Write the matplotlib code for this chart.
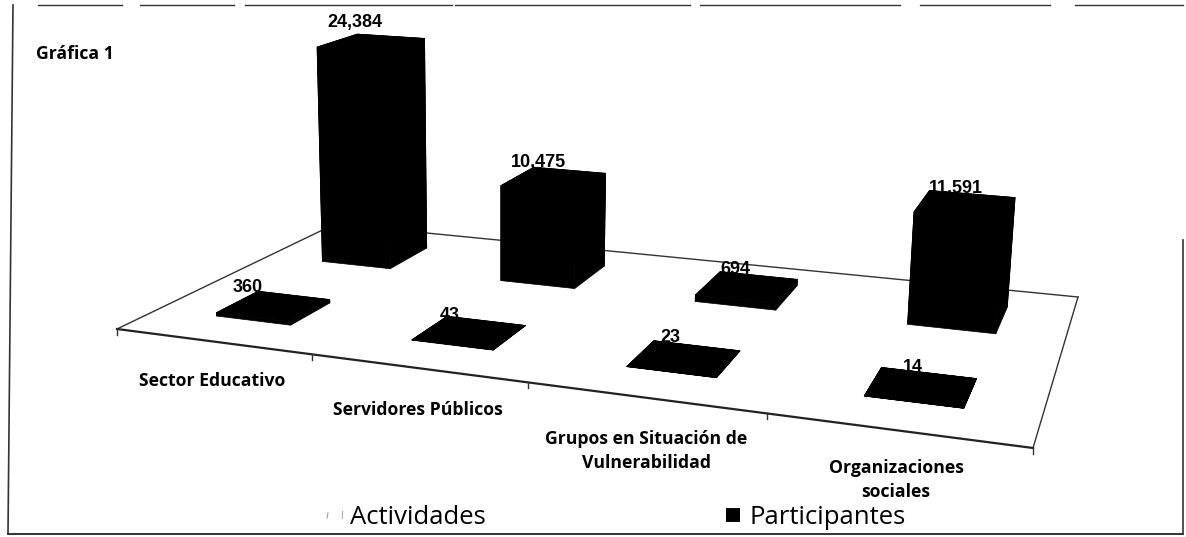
import numpy as np
import matplotlib
matplotlib.use('Agg')
import matplotlib.pyplot as plt
from matplotlib.patches import Polygon

# chart data
categories = ['Sector Educativo', 'Servidores Públicos',
              'Grupos en Situación de\nVulnerabilidad', 'Organizaciones\nsociales']
actividades = [360, 43, 23, 14]
participantes = [24384, 10475, 694, 11591]
value_labels_act = ['360', '43', '23', '14']
value_labels_par = ['24,384', '10,475', '694', '11,591']

# floor corners in picture pixels: front-left, front-right, back-right, back-left
floor = np.array([[117, 329], [1033, 448], [1078, 297], [335, 224]], dtype=float)
unit = np.array([[0, 0], [1, 0], [1, 1], [0, 1]], dtype=float)


def fit_homography(src, dst):
    rows, rhs = [], []
    for (a, b), (x, y) in zip(src, dst):
        rows.append([a, b, 1, 0, 0, 0, -a * x, -b * x])
        rows.append([0, 0, 0, a, b, 1, -a * y, -b * y])
        rhs += [x, y]
    h = np.linalg.solve(np.array(rows), np.array(rhs))
    return np.append(h, 1).reshape(3, 3)


H = fit_homography(unit, floor)


def project(cat, depth, value=0):
    # cat runs 0..4 along the front edge, depth 0..1 towards the back wall
    p = H @ np.array([cat / 4, depth, 1.0])
    x, y = p[0] / p[2], p[1] / p[2]
    k = 0.0088 + 1.45e-5 * (y - 262)
    h = value * k
    return x + h * (x - 500) * 0.00014, y - h


def draw_bar(ax, i, d0, d1, value, width=0.39):
    c0, c1 = i + 0.51 - width / 2, i + 0.51 + width / 2
    corners = [(c0, d0), (c1, d0), (c1, d1), (c0, d1)]
    base = [project(c, d) for c, d in corners]
    top = [project(c, d, value) for c, d in corners]
    for n in range(4):
        m = (n + 1) % 4
        ax.add_patch(Polygon([base[n], base[m], top[m], top[n]], fc='black', ec='black', lw=0.5, zorder=2))
    ax.add_patch(Polygon(top, fc='black', ec='black', lw=0.5, zorder=2))


fig = plt.figure(figsize=(11.86, 5.37), dpi=100)
ax = fig.add_axes([0, 0, 1, 1])
ax.set_xlim(0, 1186)
ax.set_ylim(537, 0)
ax.axis('off')

# floor outline sits behind the bars
ax.plot(*floor[[3, 0]].T, color='#333333', lw=1.0, zorder=1)
ax.plot(*floor[[0, 1]].T, color='#222222', lw=1.6, zorder=1)
ax.plot(*floor[[1, 2]].T, color='#333333', lw=1.0, zorder=1)
ax.plot(*floor[[2, 3]].T, color='#333333', lw=1.0, zorder=1)

# ticks under the front edge
for i in range(5):
    x, y = project(i, 0)
    ax.plot([x, x], [y, y + 6], color='#333333', lw=1.0, zorder=1)

# back row first, the front row is painted over it
for i in range(4):
    draw_bar(ax, i, 0.65, 0.86, participantes[i])
for i in range(4):
    draw_bar(ax, i, 0.16, 0.34, actividades[i])

# value labels, partly covered by the bars like in the scan
label_font = ['Liberation Sans Narrow', 'Liberation Sans']
par_label_pos = [(355, 23), (538, 163), (735, 270), (956, 188)]
act_label_pos = [(248, 287), (450, 315), (670, 338), (913, 368)]
for text, (x, y) in zip(value_labels_par, par_label_pos):
    ax.text(x, y, text, family=label_font, fontweight='bold', fontsize=13,
            ha='center', va='center', color='black', zorder=1.5)
for text, (x, y) in zip(value_labels_act, act_label_pos):
    ax.text(x, y, text, family=label_font, fontweight='bold', fontsize=13,
            ha='center', va='center', color='black', zorder=1.5)

# category labels
cat_pos = [(212, 381), (418, 410), (646, 451), (896, 480)]
for name, (x, y) in zip(categories, cat_pos):
    ax.text(x, y, name, family='Open Sans', fontweight='bold', fontsize=12.7,
            ha='center', va='center', linespacing=1.45, color='black')

ax.text(36, 54, 'Gráfica 1', family='Open Sans', fontweight='bold', fontsize=12.7,
        ha='left', va='center', color='black')

# legend
ax.text(350, 518, 'Actividades', family='Open Sans', fontsize=18.5, ha='left', va='center')
ax.text(749, 518, 'Participantes', family='Open Sans', fontsize=18.5, ha='left', va='center')
ax.plot([726, 740], [515, 515], color='black', lw=10, solid_capstyle='butt')
ax.plot([328, 327], [513, 518], color='#999999', lw=0.8)
ax.plot([342, 342], [511, 518], color='#aaaaaa', lw=0.8)

# scan frame
frame = '#333333'
ax.plot([13, 8], [5, 534], color=frame, lw=1.2)
ax.plot([8, 1183], [534, 534], color=frame, lw=1.4)
ax.plot([1183, 1183], [240, 534], color=frame, lw=1.2)
for x0, x1 in [(38, 122), (140, 234), (245, 452), (455, 690), (700, 900), (920, 1050), (1075, 1183)]:
    ax.plot([x0, x1], [5, 5], color=frame, lw=1.0)

fig.savefig('out.png', dpi=100)
